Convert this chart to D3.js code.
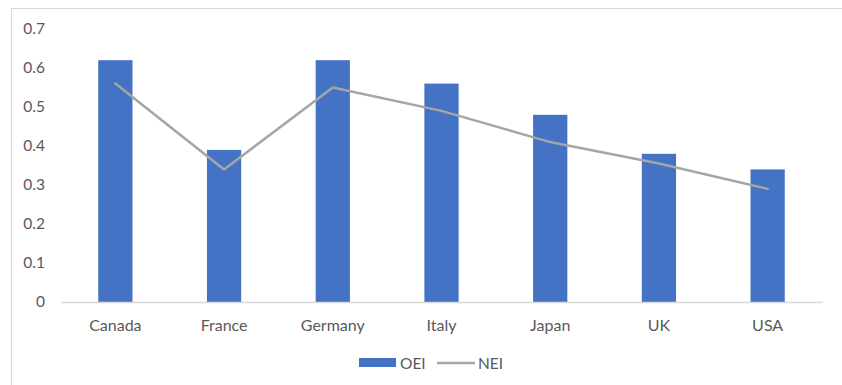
<!DOCTYPE html>
<html><head><meta charset="utf-8">
<script src="https://cdn.jsdelivr.net/npm/d3@7"></script>
<style>body{margin:0;background:#fff;} text{font-family:Lato,"Open Sans",sans-serif;}</style>
</head><body>
<svg id="c" width="842" height="385"></svg>
<script>
const categories = ["Canada","France","Germany","Italy","Japan","UK","USA"];
const oei = [0.62,0.39,0.62,0.56,0.48,0.38,0.34];
const nei = [0.56,0.34,0.55,0.49,0.41,0.355,0.29];
const yTicks = [0,0.1,0.2,0.3,0.4,0.5,0.6,0.7];

const svg = d3.select("#c");
svg.append("rect").attr("x",11.5).attr("y",8.5).attr("width",840).attr("height",400)
  .attr("fill","#fff").attr("stroke","#d9d9d9").attr("stroke-width",1);

const x = d3.scaleBand().domain(categories).range([61,822]).paddingInner(0.685).paddingOuter(0.3425);
const y = d3.scaleLinear().domain([0,0.7]).range([302,29]);

// y labels
const ya = svg.append("g").attr("transform","translate(45,0)")
  .call(d3.axisLeft(y).tickValues(yTicks).tickFormat(d=>d===0?"0":d3.format(".1f")(d)).tickSize(0).tickPadding(0));
ya.select(".domain").remove();
ya.selectAll("text").attr("fill","#595959").style("font-size","15.5px").style("font-family","Lato,'Open Sans',sans-serif");

// bars
svg.append("g").selectAll("rect").data(categories).join("rect")
  .attr("x",d=>x(d)).attr("width",x.bandwidth())
  .attr("y",(d,i)=>y(oei[i])).attr("height",(d,i)=>y(0)-y(oei[i]))
  .attr("fill","#4472C4");

// x axis
const xa = svg.append("g").attr("transform","translate(0,302)")
  .call(d3.axisBottom(x).tickSize(0).tickPadding(18));
xa.select(".domain").attr("stroke","#d9d9d9").attr("stroke-width",1.3);
xa.selectAll("text").attr("fill","#595959").style("font-size","16px").style("font-family","Lato,'Open Sans',sans-serif");

// line
const line = d3.line().x((d,i)=>x(categories[i])+x.bandwidth()/2).y(d=>y(d));
svg.append("path").datum(nei).attr("d",line).attr("fill","none")
  .attr("stroke","#A5A5A5").attr("stroke-width",2.5).attr("stroke-linejoin","round").attr("stroke-linecap","round");

// legend
const lg = svg.append("g");
lg.append("rect").attr("x",359).attr("y",358).attr("width",37).attr("height",9).attr("fill","#4472C4");
lg.append("text").attr("x",400).attr("y",368.5).text("OEI").attr("fill","#595959").style("font-size","15.5px");
lg.append("line").attr("x1",437).attr("x2",475).attr("y1",363).attr("y2",363).attr("stroke","#A5A5A5").attr("stroke-width",2.5);
lg.append("text").attr("x",478).attr("y",368.5).text("NEI").attr("fill","#595959").style("font-size","15.5px");
</script>
</body></html>
